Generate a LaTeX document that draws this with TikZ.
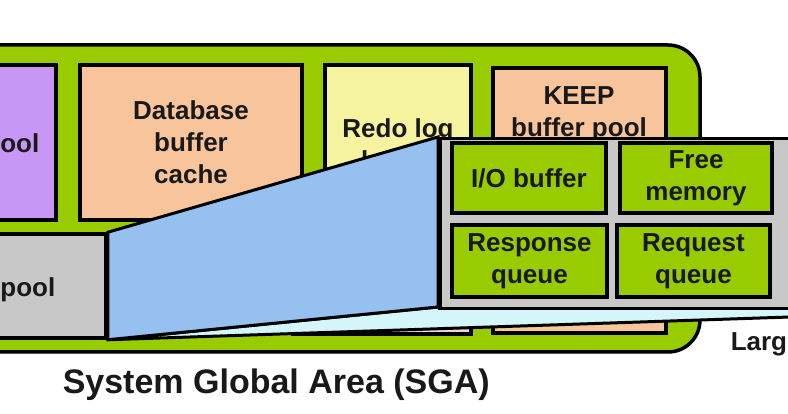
\documentclass[tikz,border=0pt]{standalone}
\usepackage{fontspec}
\setmainfont{Liberation Sans}
\usetikzlibrary{positioning,calc}
\definecolor{sgagreen}{RGB}{153,204,0}
\definecolor{mypurple}{RGB}{200,150,245}
\definecolor{mysalmon}{RGB}{248,196,156}
\definecolor{myyellow}{RGB}{245,243,160}
\definecolor{mygray}{RGB}{200,200,200}
\definecolor{myblue}{RGB}{150,192,240}
\definecolor{mycyan}{RGB}{212,245,250}
\definecolor{mypink}{RGB}{242,212,212}

\begin{document}
\begin{tikzpicture}[x=1pt,y=-1pt,line width=3.5pt,
  lbl/.style={inner sep=0pt,align=center,text=black!90,
    font=\fontsize{26}{32}\selectfont\bfseries},
  box/.style={lbl,draw=black,rectangle},
  membox/.style={box,fill=sgagreen}]

  \useasboundingbox (0,0) rectangle (788,414);
  \clip (0,0) rectangle (788,414);
  \fill[white] (0,0) rectangle (788,414);

  % SGA frame and its pools
  \node[draw,fill=sgagreen,rounded corners=32pt,minimum width=740pt,minimum height=307pt] (sga) at (330,198.5) {};
  \node[box,fill=mypurple,minimum width=76pt,minimum height=155pt] (javapool) at (18,142.5) {};
  \node[box,fill=mysalmon,minimum width=222pt,minimum height=155pt] (dbcache) at (191,142.5) {Database\\buffer\\cache};
  \node[box,fill=myyellow,minimum width=146pt,minimum height=158pt] (redo) at (398,144) {Redo log\\buffer};
  \node[box,fill=mysalmon,minimum width=173pt,minimum height=265pt] (keep) at (579.5,200.5) {};
  \node[lbl] (keeplbl) at (579,114) {KEEP\\buffer pool};
  \node[box,fill=mypink,minimum width=178pt,minimum height=102pt] (recycle) at (382,283) {};
  \node[box,fill=mygray,minimum width=126pt,minimum height=104pt] (shpool) at (43,286) {};
  \node[lbl,anchor=east] (javalbl) at (41,143) {ool};
  \node[lbl,anchor=east] (shlbl) at (57,290) {pool};

  % zoomed large pool
  \coordinate (lpnw) at (438,137);
  \coordinate (lpsw) at (438,307);
  \coordinate (lowend) at (820,316);
  \filldraw[fill=mycyan,line width=3pt] (shpool.south east) -- (lpsw) -- ($(lpsw)+(382,0)$) -- (lowend) -- cycle;
  \filldraw[fill=myblue,line width=3pt] (shpool.north east) -- (lpnw) -- (lpsw) -- (shpool.south east) -- cycle;
  \node[box,fill=mygray,anchor=north west,minimum width=382pt,minimum height=170pt] (largepool) at (lpnw) {};

  \node[membox,minimum width=154pt,minimum height=70pt] (iobuf) at (529,178) {I/O buffer};
  \node[membox,minimum width=152pt,minimum height=70pt] (freemem) at (696,178) {Free\\memory};
  \node[membox,minimum width=155pt,minimum height=72pt] (respq) at (529.5,261) {Response\\queue};
  \node[membox,minimum width=153pt,minimum height=72pt] (reqq) at (693.5,261) {Request\\queue};

  \node[lbl,anchor=west,font=\fontsize{26}{30}\selectfont\bfseries] (largelbl) at (729,344) {Larg};
  \node[lbl,anchor=west,font=\fontsize{34}{40}\selectfont\bfseries] (title) at (61,385) {System Global Area (SGA)};
\end{tikzpicture}
\end{document}
